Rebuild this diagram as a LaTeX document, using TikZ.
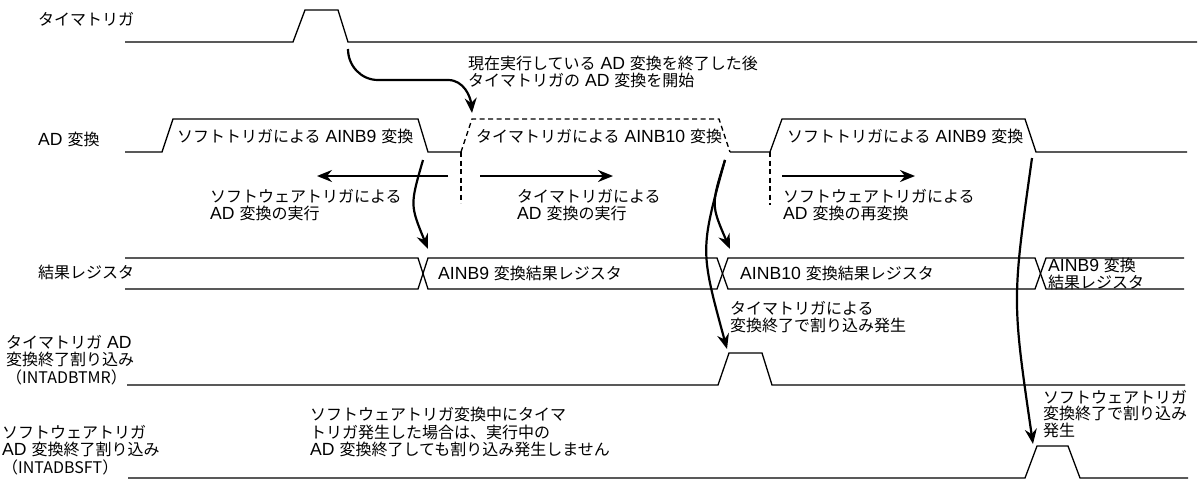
\documentclass[tikz,border=0pt]{standalone}
\usepackage{fontspec}
\setmainfont{Noto Sans CJK JP}
\newfontfamily\latf[Scale=1.1]{Liberation Sans}
\newcommand\LM[1]{{\latf\ #1\ }}
\newcommand\LS[1]{{\latf #1\ }}
\newcommand\LE[1]{{\latf\ #1}}
\usetikzlibrary{arrows.meta}
\begin{document}
\begin{tikzpicture}[x=1pt,y=-1pt,
  sig/.style={line width=1.3pt,line join=miter},
  dsh/.style={sig,dash pattern=on 5pt off 3.5pt},
  arr/.style={line width=2.2pt,-{Stealth[length=15pt,width=12pt,inset=5pt]}},
  lbl/.style={inner sep=0pt,anchor=west,align=left,font=\fontsize{16}{17.8}\selectfont},
  lbltight/.style={lbl,font=\fontsize{16}{16.3}\selectfont}]
\useasboundingbox (0,0) rectangle (1199,479);
% row labels
\node[lbl] (l1) at (38,19) {タイマトリガ};
\node[lbl] (l2) at (38,139) {\LS{AD}変換};
\node[lbl] (l3) at (38,272) {結果レジスタ};
\node[lbl] (l4) at (6,360) {タイマトリガ\LE{AD}\\変換終了割り込み\\（INTADBTMR）};
\node[lbl] (l5) at (2,450) {ソフトウェアトリガ\\\LS{AD}変換終了割り込み\\（INTADBSFT）};
% timer trigger
\draw[sig] (125,42) -- (293,42) -- (305,10) -- (338,10) -- (348,42) -- (1197,42);
% AD conversion
\draw[sig] (125,152) -- (162,152) -- (173,119) -- (418,119) -- (428,152) -- (461,152);
\draw[dsh] (461,152) -- (472,119) -- (719,119) -- (730,152);
\draw[sig] (730,152) -- (770,152) -- (782,119) -- (1025,119) -- (1036,152) -- (1187,152);
\draw[dsh] (461,152) -- (461,203);
\draw[dsh] (770,152) -- (770,205);
% result register
\draw[sig] (125,258) -- (418,258) -- (428,289) -- (717,289) -- (728,258) -- (1035,258) -- (1046,289) -- (1184,289);
\draw[sig] (125,289) -- (418,289) -- (428,258) -- (717,258) -- (728,289) -- (1035,289) -- (1046,258) -- (1184,258);
% interrupts
\draw[sig] (127,385) -- (718,385) -- (729,353) -- (762,353) -- (772,385) -- (1185,385);
\draw[sig] (128,478) -- (1025,478) -- (1037,446) -- (1068,446) -- (1080,478) -- (1188,478);
% texts
\node[lbl] (t1) at (468,72) {現在実行している\LM{AD}変換を終了した後\\タイマトリガの\LM{AD}変換を開始};
\node[lbl] (a1) at (177,136) {ソフトトリガによる\LM{AINB9}変換};
\node[lbl] (a2) at (476,136) {タイマトリガによる\LM{AINB10}変換};
\node[lbl] (a3) at (787,136) {ソフトトリガによる\LM{AINB9}変換};
\node[lbl] (m1) at (210,205) {ソフトウェアトリガによる\\\LS{AD}変換の実行};
\node[lbl] (m2) at (517,205) {タイマトリガによる\\\LS{AD}変換の実行};
\node[lbl] (m3) at (783,205) {ソフトウェアトリガによる\\\LS{AD}変換の再変換};
\node[lbl] (r1) at (438,273) {\LS{AINB9}変換結果レジスタ};
\node[lbl] (r2) at (740,273) {\LS{AINB10}変換結果レジスタ};
\node[lbltight] (r3) at (1048,274) {\LS{AINB9}変換\\結果レジスタ};
\node[lbl] (i1) at (730,317) {タイマトリガによる\\変換終了で割り込み発生};
\node[lbltight] (i2) at (1043,414) {ソフトウェアトリガ\\変換終了で割り込み\\発生};
\node[lbl] (n1) at (310,432) {ソフトウェアトリガ変換中にタイマ\\トリガ発生した場合は、実行中の\\\LS{AD}変換終了しても割り込み発生しません};
% arrow end points
\coordinate (ts) at (348,49);
\coordinate (te) at (472,113);
\coordinate (h1s) at (448,176); \coordinate (h1e) at (317,176);
\coordinate (h2s) at (480,176); \coordinate (h2e) at (613,176);
\coordinate (h3s) at (782,176); \coordinate (h3e) at (915,176);
\coordinate (c1s) at (423,160); \coordinate (c1e) at (428,249);
\coordinate (c2s) at (725,160); \coordinate (c2e) at (730,249);
\coordinate (c3e) at (727,349);
\coordinate (c4s) at (1032,158); \coordinate (c4e) at (1033,444);
% arrows
\draw[arr] (ts) to[out=-90,in=180] (378,80) -- (448,80) to[out=0,in=95] (te);
\draw[arr] (h1s) -- (h1e);
\draw[arr] (h2s) -- (h2e);
\draw[arr] (h3s) -- (h3e);
\draw[arr] (c1s) .. controls (410,205) .. (c1e);
\draw[arr] (c2s) .. controls (711,205) .. (c2e);
\draw[arr] (c2s) .. controls (700,250) .. (c3e);
\draw[arr] (c4s) .. controls (1012,300) .. (c4e);
\end{tikzpicture}
\end{document}
